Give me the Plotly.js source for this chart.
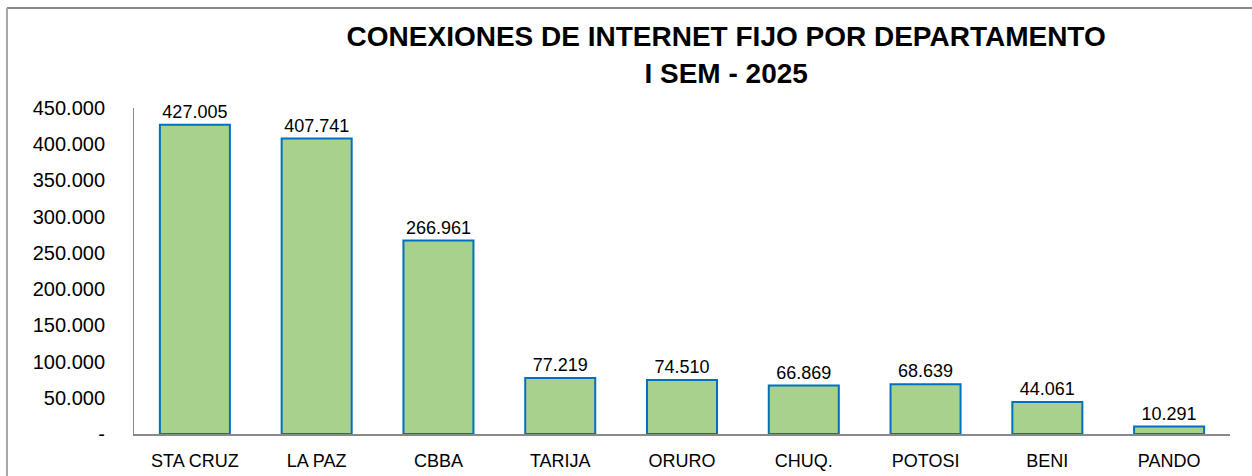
<!DOCTYPE html>
<html><head><meta charset="utf-8">
<script src="https://cdn.plot.ly/plotly-3.0.1.min.js"></script>
<style>html,body{margin:0;padding:0;background:#fff;}#chart{width:1252px;height:476px;}</style>
</head><body><div id="chart"></div>
<script>
const categories = ["STA CRUZ","LA PAZ","CBBA","TARIJA","ORURO","CHUQ.","POTOSI","BENI","PANDO"];
const conexiones = [427005,407741,266961,77219,74510,66869,68639,44061,10291];
const yTickVals = [0,50000,100000,150000,200000,250000,300000,350000,400000,450000];
const yTickText = ["-","50.000","100.000","150.000","200.000","250.000","300.000","350.000","400.000","450.000"];
const titleText = "CONEXIONES DE INTERNET FIJO POR DEPARTAMENTO<br>I SEM - 2025";

const trace = {
  type: "bar",
  x: categories,
  y: conexiones,
  marker: {color: "#A9D18E", line: {color: "#0070C0", width: 2}},
  texttemplate: "%{y:,.0f}",
  textposition: "outside",
  cliponaxis: false,
  textfont: {family: "Liberation Sans, Arial, sans-serif", size: 18, color: "#000"},
  hoverinfo: "x+y"
};

const layout = {
  width: 1252, height: 476,
  margin: {l: 134, r: 22, t: 108, b: 42},
  paper_bgcolor: "#fff", plot_bgcolor: "#fff",
  separators: ",.",
  bargap: 0.425,
  showlegend: false,
  title: {
    text: titleText,
    font: {family: "Liberation Sans, Arial, sans-serif", size: 28, color: "#000", weight: "bold"},
    x: 0.58, xanchor: "center", y: 0.903, yanchor: "middle"
  },
  xaxis: {
    showline: true, linecolor: "#898989", linewidth: 1.5,
    ticks: "", ticklabelstandoff: 10,
    tickfont: {family: "Liberation Sans, Arial, sans-serif", size: 18, color: "#000"},
    showgrid: false, zeroline: false
  },
  yaxis: {
    range: [0, 450000],
    tickvals: yTickVals, ticktext: yTickText,
    showline: true, linecolor: "#898989", linewidth: 1,
    ticks: "", ticklabelstandoff: 24,
    tickfont: {family: "Liberation Sans, Arial, sans-serif", size: 20, color: "#000"},
    showgrid: false, zeroline: false, automargin: false
  },
  shapes: [
    {type: "line", xref: "paper", yref: "paper", x0: -0.1159, x1: 1.1, y0: 1.3067, y1: 1.3067, line: {color: "#898989", width: 2}},
    {type: "line", xref: "paper", yref: "paper", x0: -0.1159, x1: -0.1159, y0: 1.3067, y1: -0.2, line: {color: "#A6A6A6", width: 2}}
  ]
};

Plotly.newPlot("chart", [trace], layout, {displayModeBar: false, staticPlot: true});
</script>
</body></html>
